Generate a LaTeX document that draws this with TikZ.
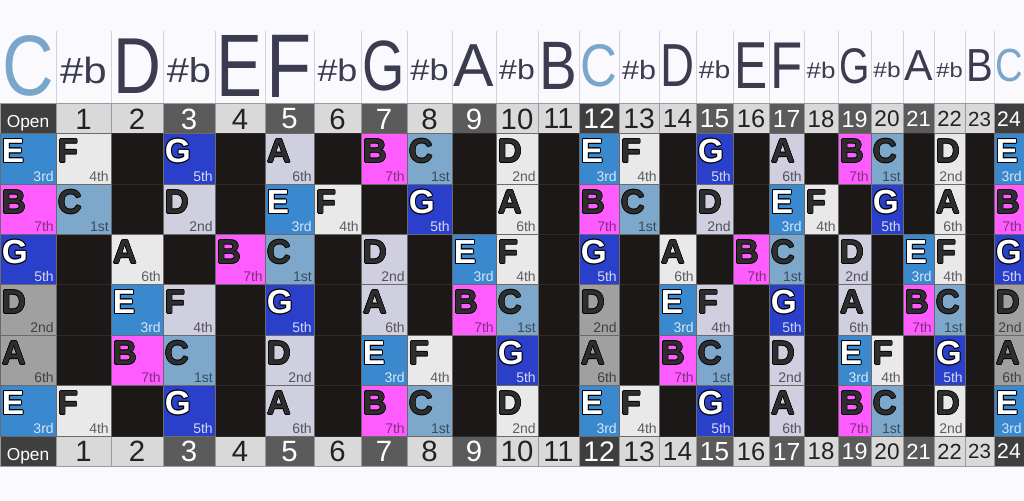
\documentclass[tikz,border=0pt]{standalone}
\usepackage{fontspec}
\setmainfont{Liberation Sans}
\usepackage{graphicx}
\usepackage{tikz}
\usepackage{xcolor}
\definecolor{pagebg}{HTML}{F9F9FE}
\definecolor{hdrtext}{HTML}{3C3C50}
\definecolor{hdrC}{HTML}{7AA6CA}
\definecolor{hdrlinec}{HTML}{D3D3DB}
\definecolor{num0}{HTML}{D9D9D9}
\definecolor{num1}{HTML}{5B5B5B}
\definecolor{num2}{HTML}{3F3F3F}
\definecolor{numtext}{HTML}{222222}
\definecolor{numlinec}{HTML}{9A9A9A}
\definecolor{fretblk}{HTML}{1C1818}
\definecolor{blkline}{HTML}{2E2A2A}
\definecolor{celllinec}{HTML}{6A6A6A}
\definecolor{deg1}{HTML}{7EA8CB}
\definecolor{deg3}{HTML}{3A88CE}
\definecolor{deg5}{HTML}{2A3FCA}
\definecolor{deg7}{HTML}{FF5CFF}
\definecolor{plain0}{HTML}{E9E9E9}
\definecolor{plain1}{HTML}{D0CFE0}
\definecolor{plain2}{HTML}{A0A0A0}
\definecolor{notedark}{HTML}{2E2E2E}

% fret edges (px), string rows (px), fret kind: 0 plain, 1 marker, 2 open/octave
\def\colx{{0,56,111,163,215,265,314,361,407,452,496,538,579,619,659,696,733,769,804,838,871,903,934,965,994,1024}}
\def\rowy{{133,184,234,284,335,385,436}}
\def\kinds{{2,0,0,1,0,1,0,1,0,1,0,0,2,0,0,1,0,1,0,1,0,1,0,0,2}}

\newcommand\olcopy[2]{\rlap{\hspace*{#1}\raisebox{#2}{\textcolor{\olcol}{\oltxt}}}}
% #1 outline colour, #2 letter colour, #3 outline width (pt), #4 text
\newcommand\outlined[4]{{\def\olcol{#1}\def\oltxt{#4}%
  \pgfmathsetmacro\olw{#3}\pgfmathsetmacro\old{0.707*#3}%
  \olcopy{\olw pt}{0pt}\olcopy{-\olw pt}{0pt}\olcopy{0pt}{\olw pt}\olcopy{0pt}{-\olw pt}%
  \olcopy{\old pt}{\old pt}\olcopy{-\old pt}{\old pt}\olcopy{\old pt}{-\old pt}\olcopy{-\old pt}{-\old pt}%
  \textcolor{#2}{#4}}}

\begin{document}
\begin{tikzpicture}[x=0.75pt, y=-0.75pt,
  hdrline/.style={draw=hdrlinec, line width=0.6pt},
  fretnum/.style={draw=numlinec, line width=0.6pt},
  blkcell/.style={fill=fretblk, draw=blkline, line width=0.6pt},
  cell/.style={draw=celllinec, line width=0.6pt},
  numtxt/.style={inner sep=0pt},
  note/.style={anchor=base west, inner sep=0pt, font=\fontsize{25}{25}\selectfont\bfseries},
  degree/.style={anchor=base east, inner sep=0pt, font=\fontsize{10.5}{10.5}\selectfont}
]
  \fill[pagebg] (0,0) rectangle (1024,500);
  \useasboundingbox (0,0) rectangle (1024,500);

  % note names above the neck
  \foreach \f/\t/\r in {0/C/1.07, 1/s/0, 2/D/1.05, 3/s/0, 4/E/1.22, 5/F/1.27, 6/s/0,
      7/G/1.08, 8/s/0, 9/A/0.95, 10/s/0, 11/B/1.15, 12/C/1.05, 13/s/0, 14/D/1.13,
      15/s/0, 16/E/1.27, 17/F/1.3, 18/s/0, 19/G/1.06, 20/s/0, 21/A/0.96, 22/s/0,
      23/B/1.1, 24/C/1.08} {
    \pgfmathsetmacro\xa{\colx[\f]}
    \pgfmathsetmacro\xb{\colx[\f+1]}
    \pgfmathsetmacro\w{\xb-\xa}
    \if s\t
      \pgfmathsetmacro\gw{0.85*\w*0.75}
      \pgfmathsetmacro\gh{0.48*\w*0.75}
      \node[inner sep=0pt, text=hdrtext] (h\f) at ({(\xa+\xb)/2},70) {\resizebox{\gw pt}{\gh pt}{\#b}};
    \else
      \pgfmathsetmacro\gw{0.92*\w*0.75}
      \pgfmathsetmacro\gh{\r*\w*0.75}
      \ifnum\numexpr\f-\f/12*12\relax=0 \def\hc{hdrC}\else\def\hc{hdrtext}\fi
      \node[inner sep=0pt, text=\hc] (h\f) at ({(\xa+\xb)/2},66) {\resizebox{\gw pt}{\gh pt}{\t}};
    \fi
  }
  \foreach \f in {1,...,24} {
    \pgfmathsetmacro\xa{\colx[\f]}
    \draw[hdrline] (\xa,31) -- (\xa,103);
  }

  % fret numbers, top and bottom
  \foreach \f in {0,...,24} {
    \pgfmathsetmacro\xa{\colx[\f]}
    \pgfmathsetmacro\xb{\colx[\f+1]}
    \pgfmathtruncatemacro\k{\kinds[\f]}
    \pgfmathsetmacro\fs{min(22,0.53*(\xb-\xa))}
    \edef\nc{num\k}
    \ifnum\k=0 \def\tc{numtext}\else\def\tc{white}\fi
    \draw[fretnum, fill=\nc] (\xa,103) rectangle (\xb,133);
    \draw[fretnum, fill=\nc] (\xa,436) rectangle (\xb,466);
    \ifnum\f=0
      \node[numtxt, anchor=base, text=white, font=\fontsize{13}{13}\selectfont] (t\f) at (28,127) {Open};
      \node[numtxt, anchor=base, text=white, font=\fontsize{13}{13}\selectfont] (b\f) at (28,460) {Open};
    \else
      \node[numtxt, text=\tc, font=\fontsize{\fs}{\fs}\selectfont] (t\f) at ({(\xa+\xb)/2},119) {\f};
      \node[numtxt, text=\tc, font=\fontsize{\fs}{\fs}\selectfont] (b\f) at ({(\xa+\xb)/2},451.5) {\f};
    \fi
  }

  % empty frets
  \foreach \s in {0,...,5} {
    \foreach \f in {0,...,24} {
      \pgfmathsetmacro\xa{\colx[\f]}
      \pgfmathsetmacro\xb{\colx[\f+1]}
      \pgfmathsetmacro\ya{\rowy[\s]}
      \pgfmathsetmacro\yb{\rowy[\s+1]}
      \draw[blkcell] (\xa,\ya) rectangle (\xb,\yb);
    }
  }

  % natural notes, strings E B G D A E
  \foreach \s/\o in {0/4, 1/11, 2/7, 3/2, 4/9, 5/4} {
    \foreach \f in {0,...,24} {
      \pgfmathtruncatemacro\n{mod(\o+\f,12)}
      \pgfmathtruncatemacro\k{\kinds[\f]}
      \def\nm{}
      \ifcase\n
          \def\nm{C}\def\dg{1st}\def\fc{deg1}\def\lc{notedark}\def\ow{0.4}\def\dc{black}\def\dop{0.55}%
      \or
      \or \def\nm{D}\def\dg{2nd}\edef\fc{plain\k}\def\lc{notedark}\def\ow{0.4}\def\dc{black}\def\dop{0.6}%
      \or
      \or \def\nm{E}\def\dg{3rd}\def\fc{deg3}\def\lc{white}\def\ow{0.75}\def\dc{white}\def\dop{0.8}%
      \or \def\nm{F}\def\dg{4th}\edef\fc{plain\k}\def\lc{notedark}\def\ow{0.4}\def\dc{black}\def\dop{0.6}%
      \or
      \or \def\nm{G}\def\dg{5th}\def\fc{deg5}\def\lc{white}\def\ow{0.75}\def\dc{white}\def\dop{0.8}%
      \or
      \or \def\nm{A}\def\dg{6th}\edef\fc{plain\k}\def\lc{notedark}\def\ow{0.4}\def\dc{black}\def\dop{0.6}%
      \or
      \or \def\nm{B}\def\dg{7th}\def\fc{deg7}\def\lc{notedark}\def\ow{0.4}\def\dc{black}\def\dop{0.5}%
      \fi
      \ifx\nm\empty\else
        \pgfmathsetmacro\xa{\colx[\f]}
        \pgfmathsetmacro\xb{\colx[\f+1]}
        \pgfmathsetmacro\ya{\rowy[\s]}
        \pgfmathsetmacro\yb{\rowy[\s+1]}
        \draw[cell, fill=\fc] (\xa,\ya) rectangle (\xb,\yb);
        \node[note] (n\s-\f) at ({\xa+1.5},{\ya+29.5}) {\outlined{black}{\lc}{\ow}{\nm}};
        \node[degree, text=\dc, text opacity=\dop] (d\s-\f) at ({\xb-2},{\yb-3}) {\dg};
      \fi
    }
  }
\end{tikzpicture}
\end{document}
